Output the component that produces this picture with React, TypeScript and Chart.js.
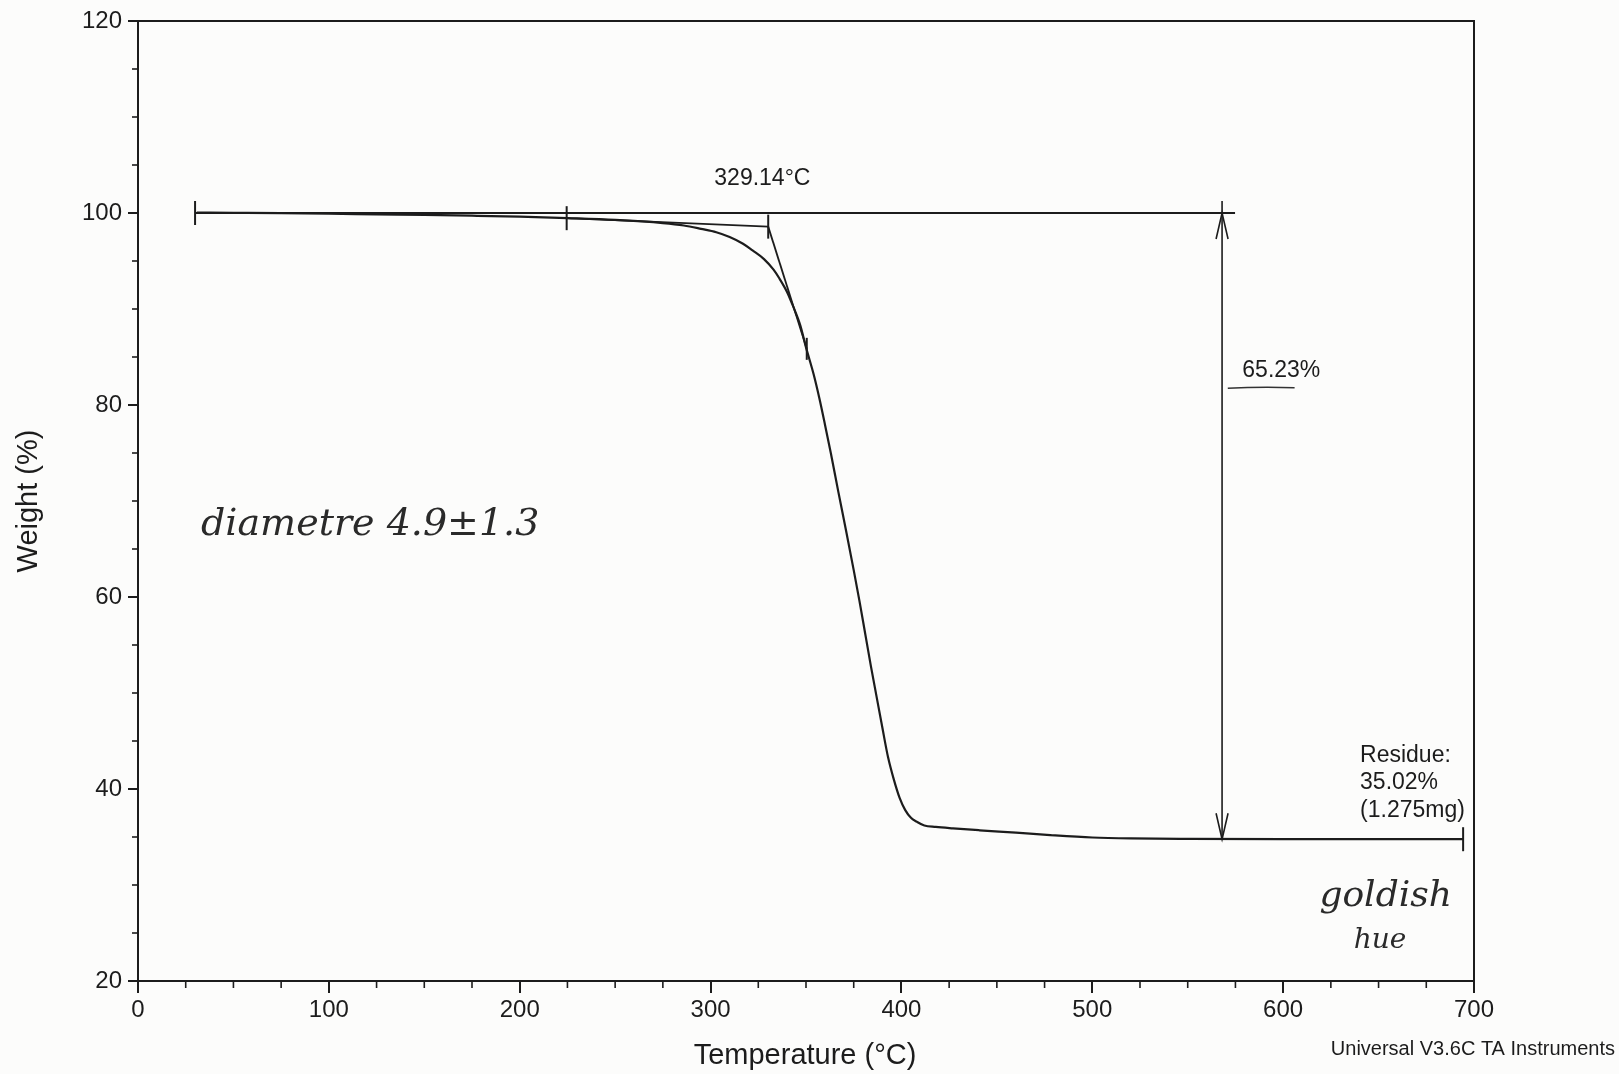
import React, { useEffect, useRef } from 'react';
import { Chart, registerables } from 'chart.js';
Chart.register(...registerables);

// ---- Data ----
const temperatureC = [30.8, 50, 75, 100, 125, 150, 175, 200, 225, 250, 275, 286, 295, 303, 310, 317, 322, 328, 333, 336, 340, 343, 347, 350, 354, 357, 360, 363, 367, 371, 375, 378, 381, 384, 387, 390, 393, 396, 399, 402, 405, 408, 412, 418, 427, 441, 460, 478, 500, 520, 550, 600, 650, 694.3];
const weightPct = [100.05, 100.02, 99.98, 99.93, 99.86, 99.8, 99.72, 99.62, 99.47, 99.28, 98.95, 98.7, 98.35, 98.0, 97.5, 96.8, 96.1, 95.2, 94.1, 93.2, 91.8, 90.4, 88.3, 86.0, 83.2, 80.7, 77.9, 75.0, 70.9, 66.9, 62.8, 59.6, 56.2, 52.8, 49.6, 46.4, 43.3, 41.0, 39.1, 37.8, 37.0, 36.6, 36.2, 36.05, 35.9, 35.7, 35.45, 35.2, 34.95, 34.85, 34.8, 34.78, 34.77, 34.77];

const xTicks = [0, 100, 200, 300, 400, 500, 600, 700];
const yTicks = [20, 40, 60, 80, 100, 120];

// analysis constructions (data coordinates)
const refLineT = [29.9, 574.8];          // 100 % reference
const refLineW = [100, 100];
const baselineT = [224.6, 330.2];        // extrapolated baseline
const baselineW = [99.46, 98.58];
const tangentT = [330.2, 350.4];         // onset tangent
const tangentW = [98.58, 85.85];
const onsetTemp = 329.14;
const stepTemp = 568;
const stepTop = 100;
const residuePct = 34.77;
const weightChangeLabel = '65.23%';
const onsetLabel = '329.14°C';
const residueLines = ['Residue:', '35.02%', '(1.275mg)'];
const footer = 'Universal V3.6C TA Instruments';
const handNote1 = 'diametre 4.9±1.3';
const handNote2 = ['goldish', 'hue'];

const INK = '#1c1c1c';
const SANS = '"Liberation Sans", Arial, sans-serif';
const HAND = 'italic 38px "DejaVu Serif", serif';

const pts = (xs: number[], ys: number[]) => xs.map((x, i) => ({ x, y: ys[i] }));

const annotate = {
  id: 'tgaAnnotate',
  beforeDraw(chart: any) {
    const c = chart.ctx;
    c.save();
    c.fillStyle = '#fcfcfb';
    c.fillRect(0, 0, chart.width, chart.height);
    c.restore();
  },
  afterDraw(chart: any) {
    const c = chart.ctx;
    const xs = chart.scales.x, ys = chart.scales.y;
    const px = (v: number) => xs.getPixelForValue(v);
    const py = (v: number) => ys.getPixelForValue(v);
    const a = chart.chartArea;
    c.save();
    c.strokeStyle = INK;
    c.fillStyle = INK;
    c.lineCap = 'butt';

    // frame top and right
    c.lineWidth = 2;
    c.beginPath();
    c.moveTo(a.left, a.top); c.lineTo(a.right, a.top); c.lineTo(a.right, a.bottom);
    c.stroke();

    // minor ticks
    c.lineWidth = 1.6;
    for (let v = 25; v < 700; v += 25) {
      if (v % 100 === 0) continue;
      c.beginPath(); c.moveTo(px(v), a.bottom); c.lineTo(px(v), a.bottom + 7); c.stroke();
    }
    for (let v = 25; v < 120; v += 5) {
      if (v % 20 === 0) continue;
      c.beginPath(); c.moveTo(a.left - 6, py(v)); c.lineTo(a.left, py(v)); c.stroke();
    }

    // vertical marker ticks
    const tick = (t: number, w: number, up: number, down: number) => {
      c.beginPath(); c.moveTo(px(t), py(w) - up); c.lineTo(px(t), py(w) + down); c.stroke();
    };
    c.lineWidth = 2;
    tick(refLineT[0], 100, 12, 12);
    tick(baselineT[0], baselineW[0], 12, 12);
    tick(baselineT[1], baselineW[1], 12, 12);
    tick(tangentT[1], tangentW[1], 11, 11);
    tick(694.3, residuePct, 12, 12);

    // double arrow for weight change
    c.lineWidth = 1.6;
    const ax = px(stepTemp);
    const yt = py(stepTop), yb = py(residuePct);
    c.beginPath(); c.moveTo(ax, yt - 12); c.lineTo(ax, yb); c.stroke();
    c.beginPath();
    c.moveTo(ax - 6, yt + 26); c.lineTo(ax, yt); c.lineTo(ax + 6, yt + 26);
    c.moveTo(ax - 6, yb - 26); c.lineTo(ax, yb); c.lineTo(ax + 6, yb - 26);
    c.stroke();

    // texts
    c.textBaseline = 'middle';
    c.font = `23px ${SANS}`;
    c.textAlign = 'center';
    c.fillText(onsetLabel, px(onsetTemp - 2), py(103.6));
    c.textAlign = 'left';
    c.fillText(weightChangeLabel, px(578.6), py(83.6));
    residueLines.forEach((s, i) => c.fillText(s, px(640.3), py(43.5) + i * 27.5));

    // underline (hand mark)
    c.lineWidth = 1.5;
    c.strokeStyle = '#333';
    c.beginPath(); c.moveTo(px(571), py(81.75)); c.quadraticCurveTo(px(588), py(81.9), px(606), py(81.8)); c.stroke();

    // handwritten notes
    c.fillStyle = '#2a2a2a';
    c.font = HAND;
    c.fillText(handNote1, px(33), py(67.5));
    c.font = 'italic 36px "DejaVu Serif", serif';
    c.fillText(handNote2[0], px(619), py(28.8));
    c.font = 'italic 28px "DejaVu Serif", serif';
    c.fillText(handNote2[1], px(637), py(24.2));

    // axis titles
    c.fillStyle = INK;
    c.font = `29px ${SANS}`;
    c.textAlign = 'center';
    c.fillText('Temperature (°C)', px(349.5), a.bottom + 75);
    c.save();
    c.translate(29, (a.top + a.bottom) / 2);
    c.rotate(-Math.PI / 2);
    c.fillText('Weight (%)', 0, 0);
    c.restore();

    c.font = `20px ${SANS}`;
    c.textAlign = 'right';
    c.fillText(footer, chart.width - 4, a.bottom + 68);
    c.restore();
  },
};

export default function App() {
  const ref = useRef<HTMLCanvasElement>(null);
  useEffect(() => {
    document.body.style.margin = '0';
    const canvas = ref.current!;
    const lineDs = (data: any[], width: number) => ({
      data, showLine: true, borderColor: INK, borderWidth: width, pointRadius: 0, tension: 0, fill: false,
    });
    const chart = new Chart(canvas, {
      type: 'scatter',
      data: {
        datasets: [
          { ...lineDs(pts(temperatureC, weightPct), 2.2), cubicInterpolationMode: 'monotone' } as any,
          lineDs(pts(refLineT, refLineW), 2),
          lineDs(pts(baselineT, baselineW), 1.8),
          lineDs(pts(tangentT, tangentW), 1.8),
        ],
      },
      options: {
        responsive: false,
        animation: false,
        events: [],
        layout: { padding: { top: 21, right: 145, left: 0, bottom: 0 } },
        plugins: { legend: { display: false }, tooltip: { enabled: false } },
        scales: {
          x: {
            type: 'linear', min: 0, max: 700,
            afterBuildTicks: (s: any) => { s.ticks = xTicks.map((v) => ({ value: v })); },
            afterFit: (s: any) => { s.height = 93; },
            ticks: { color: INK, font: { family: SANS, size: 24 }, padding: 3, maxRotation: 0 },
            grid: { drawOnChartArea: false, drawTicks: true, tickLength: 12, color: INK, lineWidth: 2 },
            border: { display: true, color: INK, width: 2 },
          },
          y: {
            type: 'linear', min: 20, max: 120,
            afterBuildTicks: (s: any) => { s.ticks = yTicks.map((v) => ({ value: v })); },
            afterFit: (s: any) => { s.width = 138; },
            ticks: { color: INK, font: { family: SANS, size: 24 }, padding: 6 },
            grid: { drawOnChartArea: false, drawTicks: true, tickLength: 10, color: INK, lineWidth: 2 },
            border: { display: true, color: INK, width: 2 },
          },
        },
      },
      plugins: [annotate],
    });
    return () => chart.destroy();
  }, []);
  return (
    <div style={{ width: 1619, height: 1074 }}>
      <canvas ref={ref} width={1619} height={1074} style={{ display: 'block' }} />
    </div>
  );
}
